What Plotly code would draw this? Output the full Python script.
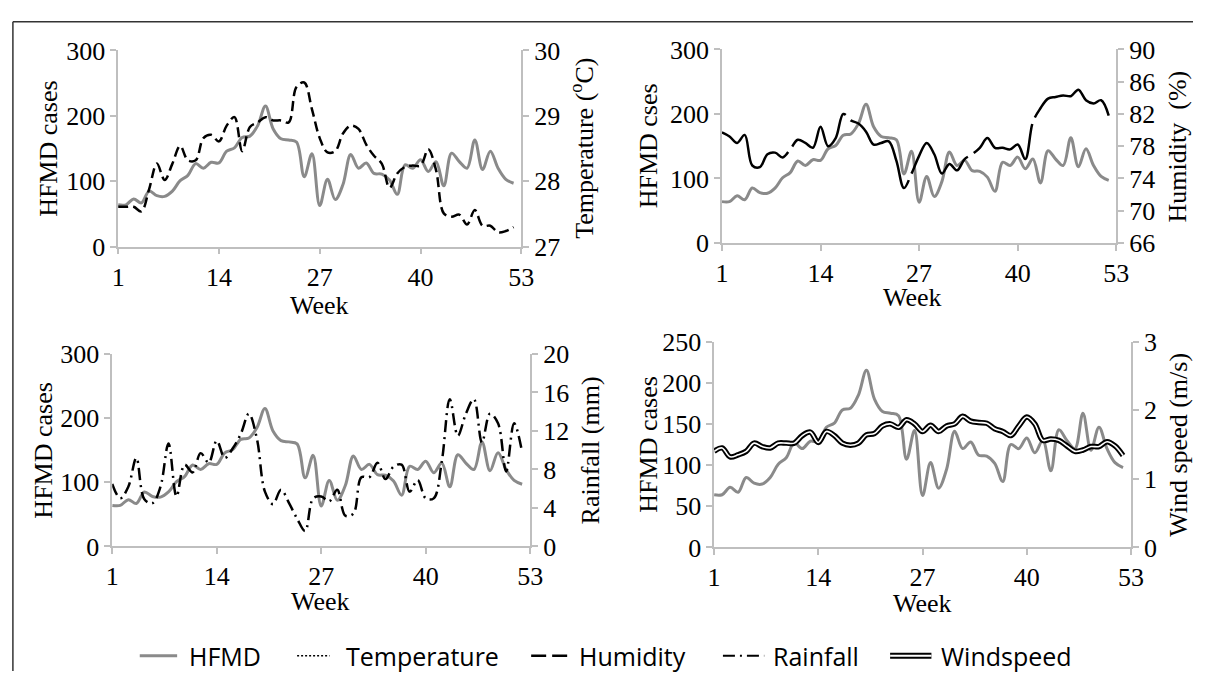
import plotly.graph_objects as go

W, H = 1206, 686

weeks = list(range(1, 53))
hfmd = [64, 64, 73, 67, 85, 78, 77, 85, 101, 109, 127, 120, 129, 128, 146, 151, 167, 169, 185, 215,
        180, 165, 163, 160, 107, 142, 63, 103, 72, 95, 141, 120, 128, 112, 111, 102, 80, 125, 120, 133,
        115, 130, 93, 143, 130, 120, 163, 118, 146, 120, 103, 97]
temperature = [27.61, 27.61, 27.61, 27.54, 27.88, 28.27, 28.02, 28.27, 28.54, 28.32, 28.32, 28.66, 28.71,
               28.61, 28.85, 28.98, 28.46, 28.83, 28.90, 28.98, 28.93, 28.93, 28.90, 29.44, 29.51, 29.10,
               28.66, 28.44, 28.46, 28.73, 28.85, 28.80, 28.56, 28.39, 28.27, 27.90, 28.12, 28.22, 28.24,
               28.24, 28.49, 28.17, 27.51, 27.46, 27.49, 27.34, 27.56, 27.32, 27.32, 27.22, 27.24, 27.30]
humidity = [79.7, 79.2, 78.4, 79.4, 75.6, 75.4, 77.0, 77.2, 76.6, 77.6, 78.8, 78.4, 77.8, 80.4, 78.0, 79.0,
            82.0, 81.2, 80.8, 79.8, 78.2, 78.4, 78.6, 76.2, 72.8, 74.6, 76.8, 78.4, 77.0, 74.6, 75.8, 75.0,
            76.4, 77.0, 77.8, 79.0, 77.8, 77.8, 77.6, 78.2, 76.4, 81.0, 82.7, 83.9, 84.1, 84.3, 84.2, 85.0,
            83.7, 83.3, 83.7, 81.8]
rainfall = [6.5, 5.0, 6.2, 9.2, 4.9, 4.5, 6.2, 10.7, 5.2, 8.5, 7.7, 9.7, 8.7, 11.0, 9.2, 10.2, 11.7, 13.8,
            11.2, 5.7, 4.4, 5.9, 4.5, 2.9, 1.6, 5.0, 5.2, 4.7, 5.9, 3.2, 3.4, 7.2, 7.2, 8.7, 7.0, 8.3, 8.5,
            5.7, 6.9, 5.0, 5.0, 8.8, 15.3, 11.5, 13.8, 15.3, 10.8, 13.8, 12.8, 7.8, 12.8, 9.8]
windspeed = [1.40, 1.45, 1.32, 1.35, 1.40, 1.52, 1.47, 1.45, 1.52, 1.52, 1.52, 1.63, 1.68, 1.53, 1.69, 1.63,
             1.52, 1.49, 1.52, 1.64, 1.66, 1.77, 1.80, 1.75, 1.86, 1.80, 1.69, 1.78, 1.69, 1.77, 1.80, 1.91,
             1.84, 1.82, 1.81, 1.73, 1.69, 1.63, 1.77, 1.90, 1.80, 1.56, 1.58, 1.56, 1.48, 1.40, 1.42, 1.47,
             1.47, 1.54, 1.48, 1.34]

week_ticks = [1, 14, 27, 40, 53]
legend_names = ["HFMD", "Temperature", "Humidity", "Rainfall", "Windspeed"]

GREY = "#8a8a8a"
AXC = "#bfbfbf"
SERIF = "Liberation Serif, Times New Roman, Tinos, DejaVu Serif, serif"
FS = 26


def px_x(p):
    return p / W


def px_y(p):
    return 1 - p / H


# panel pixel boxes: (x0, x1, ytop, ybottom)
panels = [
    dict(box=(113, 523, 38, 243), left=[0, 300, 100], right=[27, 30, 1], rtitle="Temperature (<sup>o</sup>C)",
         ltitle="HFMD cases", lt_x=42, rt_x=585),
    dict(box=(727, 1128, 37, 239), left=[0, 300, 100], right=[66, 90, 4], rtitle="Humidity  (%)",
         ltitle="HFMD cses", lt_x=652, rt_x=1190),
    dict(box=(107, 532, 355, 556), left=[0, 300, 100], right=[0, 20, 4], rtitle="Rainfall (mm)",
         ltitle="HFMD cases", lt_x=37, rt_x=593),
    dict(box=(719, 1143, 342, 557), left=[0, 250, 50], right=[0, 3, 1], rtitle="Wind speed (m/s)",
         ltitle="HFMD cases", lt_x=652, rt_x=1191),
]

fig = go.Figure()
layout = dict(width=W, height=H, margin=dict(l=0, r=0, t=0, b=0), autosize=False,
              paper_bgcolor="white", plot_bgcolor="rgba(0,0,0,0)", showlegend=False,
              font=dict(family=SERIF, size=FS, color="black"))
annotations = []
shapes = []

axis_common = dict(showline=True, linecolor=AXC, linewidth=1.5, ticks="outside", ticklen=6,
                   tickcolor=AXC, tickwidth=1.5, showgrid=False, zeroline=False,
                   tickfont=dict(family=SERIF, size=FS, color="black"))

for i, p in enumerate(panels):
    x0, x1, yt, yb = p["box"]
    xn = "xaxis" if i == 0 else f"xaxis{i + 1}"
    yl_idx = 2 * i + 1
    yr_idx = 2 * i + 2
    yln = "yaxis" if yl_idx == 1 else f"yaxis{yl_idx}"
    yrn = f"yaxis{yr_idx}"
    xref = "x" if i == 0 else f"x{i + 1}"
    ylref = "y" if yl_idx == 1 else f"y{yl_idx}"
    layout[xn] = dict(domain=[px_x(x0), px_x(x1)], anchor=ylref, range=[1, 53],
                      tickvals=week_ticks, ticktext=[str(t) for t in week_ticks], **axis_common)
    lo, hi, st = p["left"]
    layout[yln] = dict(domain=[px_y(yb), px_y(yt)], anchor=xref, range=[lo, hi],
                       tickvals=list(range(lo, hi + 1, st)), **axis_common)
    rlo, rhi, rst = p["right"]
    layout[yrn] = dict(overlaying=ylref, side="right", anchor=xref, range=[rlo, rhi],
                       tickvals=list(range(rlo, rhi + 1, rst)), **axis_common)

    fig.add_trace(go.Scatter(x=weeks, y=hfmd, mode="lines", line=dict(color=GREY, width=3, shape="spline", smoothing=1),
                             xaxis=xref, yaxis=ylref, name="HFMD"))

    # axis titles
    annotations.append(dict(text=p["ltitle"], x=px_x(p["lt_x"]), y=px_y((yt + yb) / 2), xref="paper", yref="paper",
                            textangle=-90, showarrow=False, xanchor="center", yanchor="middle",
                            font=dict(family=SERIF, size=FS, color="black")))
    annotations.append(dict(text=p["rtitle"], x=px_x(p["rt_x"]), y=px_y((yt + yb) / 2), xref="paper", yref="paper",
                            textangle=-90, showarrow=False, xanchor="center", yanchor="middle",
                            font=dict(family=SERIF, size=FS, color="black")))

# week titles
for (cx, cy) in [(318, 304), (921, 296), (319, 613), (931, 616)]:
    annotations.append(dict(text="Week", x=px_x(cx), y=px_y(cy), xref="paper", yref="paper", showarrow=False,
                            xanchor="center", yanchor="middle", font=dict(family=SERIF, size=FS, color="black")))

# secondary series
fig.add_trace(go.Scatter(x=weeks, y=temperature, mode="lines", name="Temperature",
                         line=dict(color="black", width=2.5, dash="10px,5px", shape="spline", smoothing=1),
                         xaxis="x", yaxis="y2"))
fig.add_trace(go.Scatter(x=weeks, y=humidity, mode="lines", name="Humidity",
                         line=dict(color="black", width=2.5, dash="110px,7px", shape="spline", smoothing=1),
                         xaxis="x2", yaxis="y4"))
fig.add_trace(go.Scatter(x=weeks, y=rainfall, mode="lines", name="Rainfall",
                         line=dict(color="black", width=2.5, dash="12px,5px,2px,5px", shape="spline", smoothing=1),
                         xaxis="x3", yaxis="y6"))
fig.add_trace(go.Scatter(x=weeks, y=windspeed, mode="lines", name="Windspeed",
                         line=dict(color="black", width=5.5, shape="spline", smoothing=1),
                         xaxis="x4", yaxis="y8"))
fig.add_trace(go.Scatter(x=weeks, y=windspeed, mode="lines", name="Windspeed", showlegend=False,
                         line=dict(color="white", width=1.6, shape="spline", smoothing=1),
                         xaxis="x4", yaxis="y8"))

# manual legend
LY = 670
leg = [
    dict(x0=135, x1=173, tx=183, style=[dict(color=GREY, width=3, dash="solid")]),
    dict(x0=295, x1=328, tx=343, style=[dict(color="black", width=1.5, dash="2px,2px")]),
    dict(x0=533, x1=570, tx=580, style=[dict(color="black", width=2.5, dash="15px,6px")]),
    dict(x0=728, x1=770, tx=777, style=[dict(color="black", width=2, dash="12px,5px,2px,5px")]),
    dict(x0=898, x1=940, tx=948, style=[dict(color="black", width=6, dash="solid"),
                                        dict(color="white", width=2, dash="solid")]),
]
for name, it in zip(legend_names, leg):
    for st in it["style"]:
        shapes.append(dict(type="line", xref="paper", yref="paper", x0=px_x(it["x0"]), x1=px_x(it["x1"]),
                           y0=px_y(LY), y1=px_y(LY), line=st))
    annotations.append(dict(text=name, x=px_x(it["tx"]), y=px_y(LY), xref="paper", yref="paper", showarrow=False,
                            xanchor="left", yanchor="middle", font=dict(family="Open Sans", size=25, color="black")))

# outer frame (top and left edges)
shapes.append(dict(type="line", xref="paper", yref="paper", x0=px_x(6), x1=1, y0=px_y(8), y1=px_y(8),
                   line=dict(color="#333333", width=1.5)))
shapes.append(dict(type="line", xref="paper", yref="paper", x0=px_x(6), x1=px_x(6), y0=0, y1=px_y(8),
                   line=dict(color="#333333", width=1.5)))

layout["annotations"] = annotations
layout["shapes"] = shapes
fig.update_layout(**layout)
fig.write_html("out.html")
